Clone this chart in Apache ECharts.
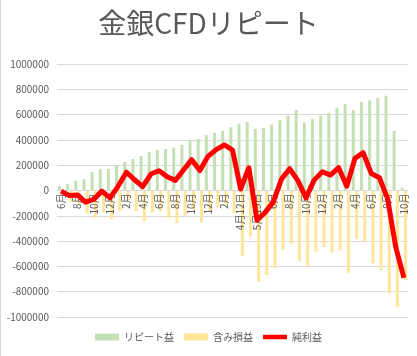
<!DOCTYPE html>
<html><head><meta charset="utf-8">
<script src="https://cdn.jsdelivr.net/npm/echarts@6/dist/echarts.min.js"></script>
<style>html,body{margin:0;padding:0;background:#fff}#c{width:417px;height:356px}</style>
</head><body><div id="c"></div>
<script>
const categories = ['6月','7月','8月','9月','10月','11月','12月','1月','2月','3月','4月','5月','6月','7月','8月','9月','10月','11月','12月','1月','2月','3月','4月12日','4月','5月19日','5月','6月','7月','8月','9月','10月','11月','12月','1月','2月','3月','4月','5月','6月','7月','8月','9月','10月'];
const repeatProfit = [35000,51000,75000,91000,146000,168000,170000,200000,226000,249000,273000,305000,320000,328000,339000,360000,394000,408000,438000,455000,471000,500000,529000,542000,487000,495000,521000,558000,592000,636000,537000,566000,592000,613000,653000,685000,637000,701000,711000,732000,750000,472000,21000];
const unrealized = [-40000,-91000,-110000,-183000,-216000,-173000,-228000,-165000,-81000,-164000,-243000,-175000,-164000,-219000,-259000,-198000,-150000,-250000,-168000,-132000,-111000,-180000,-517000,-362000,-722000,-668000,-611000,-468000,-420000,-556000,-595000,-484000,-444000,-491000,-473000,-651000,-383000,-402000,-576000,-631000,-814000,-920000,-711000];
const netProfit = [-5000,-40000,-35000,-92000,-70000,-5000,-58000,35000,145000,85000,30000,130000,156000,109000,80000,162000,244000,158000,270000,323000,360000,320000,12000,180000,-235000,-173000,-90000,90000,172000,80000,-58000,82000,148000,122000,180000,34000,254000,299000,135000,101000,-64000,-448000,-690000];
const seriesNames = ['リピート益','含み損益','純利益'];
const titleText = '金銀CFDリピート';

const chart = echarts.init(document.getElementById('c'), null, {renderer:'canvas'});
const font = '"Noto Sans CJK JP", "Noto Sans", sans-serif';
const gridTop = 64, gridBottom = 39, H = 356;
const plotH = H - gridTop - gridBottom;
chart.setOption({
  animation: false,
  backgroundColor: '#fff',
  textStyle: {fontFamily: font},
  title: {
    text: titleText, left: 'center', top: 4,
    textStyle: {fontSize: 28, fontWeight: 'normal', color: '#595959', fontFamily: font}
  },
  legend: {
    bottom: 9, left: 'center', itemWidth: 24, itemHeight: 7, itemGap: 10,
    textStyle: {fontSize: 10, color: '#595959', fontFamily: font},
    data: [
      {name: seriesNames[0], icon: 'rect'},
      {name: seriesNames[1], icon: 'rect'},
      {name: seriesNames[2], icon: 'path://M0 0H24V4.5H0Z'}
    ]
  },
  grid: {left: 57, right: 9, top: gridTop, bottom: gridBottom, containLabel: false},
  xAxis: {
    type: 'category', data: categories,
    offset: -plotH / 2, z: 3,
    axisLine: {onZero: false, lineStyle: {color: '#d9d9d9'}},
    axisTick: {show: false},
    axisLabel: {interval: 1, rotate: 90, fontSize: 10, color: '#595959', margin: 3, fontFamily: font}
  },
  yAxis: {
    type: 'value', min: -1000000, max: 1000000, interval: 200000,
    axisLine: {show: false}, axisTick: {show: false},
    axisLabel: {fontSize: 10, color: '#595959', margin: 8, formatter: v => String(v), fontFamily: font},
    splitLine: {lineStyle: {color: '#d9d9d9'}}
  },
  series: [
    {name: seriesNames[0], type: 'bar', data: repeatProfit, barWidth: 3, barGap: '10%',
     itemStyle: {color: '#C5E0B4'}},
    {name: seriesNames[1], type: 'bar', data: unrealized, barWidth: 3,
     itemStyle: {color: '#FFE699'}},
    {name: seriesNames[2], type: 'line', data: netProfit, showSymbol: false, symbol: 'none',
     lineStyle: {color: '#FF0000', width: 5, join: 'round'}, itemStyle: {color: '#FF0000'}, z: 5}
  ],
  graphic: [
    {type: 'line', shape: {x1: 0.5, y1: 0, x2: 0.5, y2: 356}, style: {stroke: '#d9d9d9', lineWidth: 1}}
  ]
});
</script></body></html>
